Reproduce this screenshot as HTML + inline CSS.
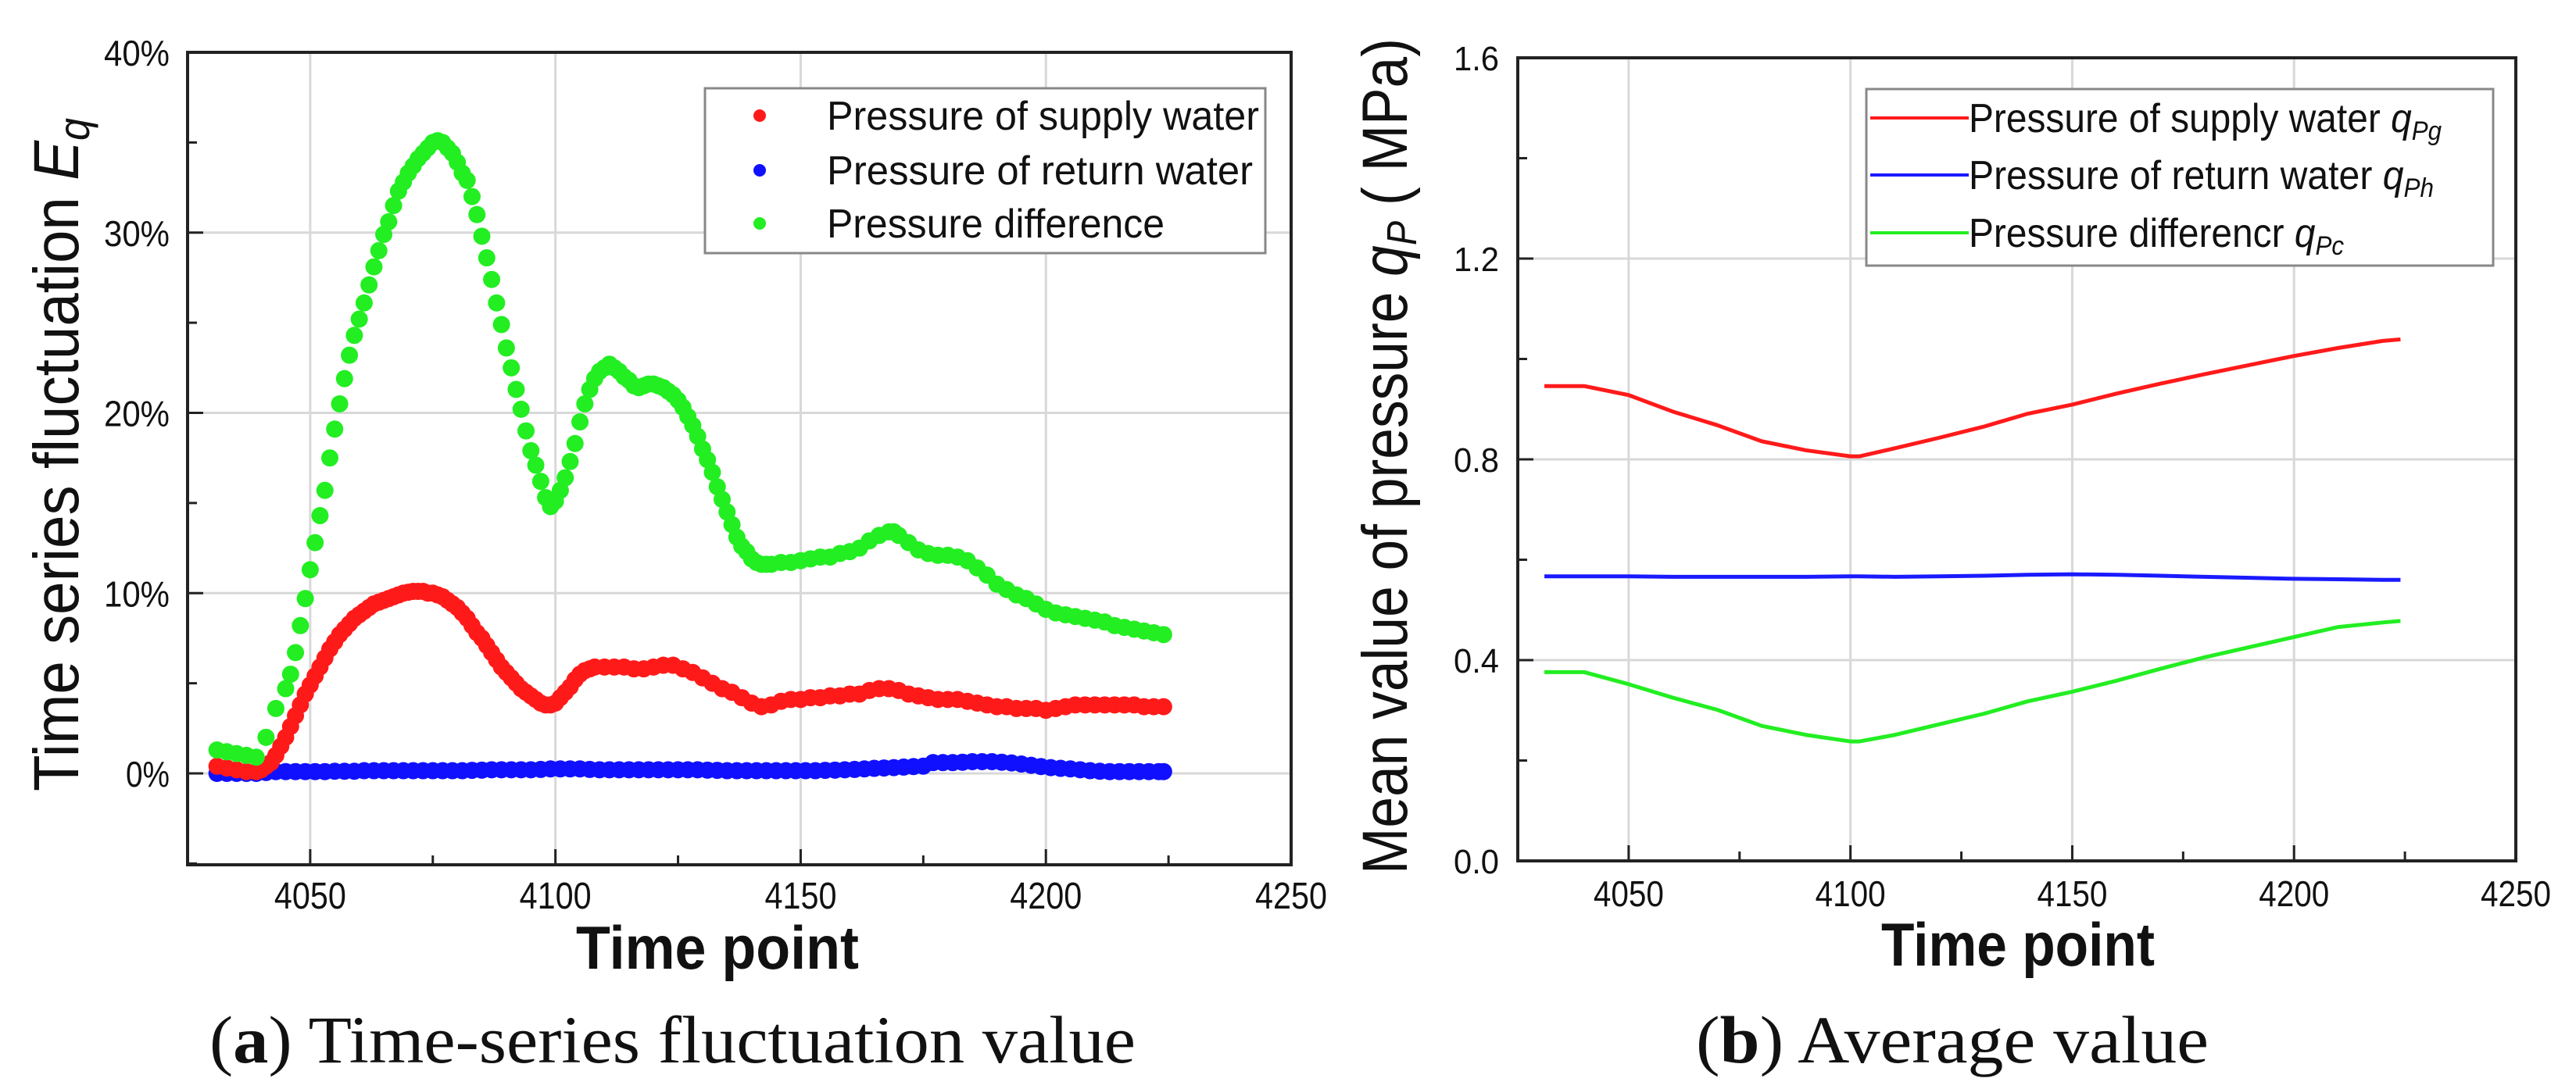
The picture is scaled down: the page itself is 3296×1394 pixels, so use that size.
<!DOCTYPE html>
<html><head><meta charset="utf-8"><style>
html,body{margin:0;padding:0;background:#fff;}
svg{display:block;}
text{font-family:"Liberation Sans",sans-serif;fill:#111;}
.cap{font-family:"Liberation Serif",serif;}
</style></head><body>
<svg id="fig" width="3296" height="1394" viewBox="0 0 3296 1394" xmlns="http://www.w3.org/2000/svg">
<g id="chartA"></g>
<g id="chartB"></g>
</svg>
<script>
// ---- Chart (a) data ----
const tGreen=[4031,4033,4035,4037,4039,4041,4043,4045,4046,4047,4048,4049,4050,4051,4052,4053,4054,4055,4056,4057,4058,4059,4060,4061,4062,4063,4064,4065,4066,4067,4068,4069,4070,4071,4072,4073,4074,4075,4076,4077,4078,4079,4080,4081,4082,4083,4084,4085,4086,4087,4088,4089,4090,4091,4092,4093,4094,4095,4096,4097,4098,4099,4100,4101,4102,4103,4104,4105,4106,4107,4108,4109,4110,4111,4112,4113,4114,4115,4116,4117,4118,4119,4120,4121,4122,4123,4124,4125,4126,4127,4128,4129,4130,4131,4132,4133,4134,4135,4136,4137,4138,4139,4140,4141,4142,4143,4144,4146,4148,4150,4152,4154,4156,4158,4160,4162,4164,4166,4168,4169,4170,4172,4174,4176,4178,4180,4182,4184,4186,4188,4190,4192,4194,4196,4198,4200,4202,4204,4206,4208,4210,4212,4214,4216,4218,4220,4222,4224];
const green=[1.3,1.2,1.1,1.0,0.9,2.0,3.6,4.7,5.5,6.7,8.2,9.7,11.3,12.8,14.3,15.7,17.5,19.1,20.5,21.9,23.2,24.3,25.2,26.1,27.1,28.1,29.0,29.9,30.6,31.5,32.3,32.8,33.3,33.7,34.1,34.4,34.7,35.0,35.1,35.0,34.7,34.4,33.9,33.3,32.9,32.0,31.0,29.8,28.6,27.4,26.1,24.9,23.6,22.5,21.3,20.2,19.0,17.9,17.1,16.2,15.3,14.8,15.1,15.7,16.4,17.3,18.3,19.5,20.5,21.3,21.9,22.3,22.5,22.7,22.5,22.3,22.0,21.8,21.5,21.4,21.5,21.6,21.6,21.5,21.4,21.2,21.0,20.7,20.3,19.8,19.3,18.7,18.0,17.4,16.7,15.9,15.2,14.5,13.8,13.1,12.6,12.3,11.9,11.7,11.6,11.6,11.6,11.7,11.7,11.8,11.9,12.0,12.0,12.2,12.3,12.5,12.9,13.2,13.4,13.4,13.2,12.8,12.4,12.2,12.1,12.1,12.0,11.8,11.4,11.0,10.5,10.2,9.9,9.7,9.4,9.1,8.9,8.8,8.7,8.6,8.5,8.4,8.2,8.1,8.0,7.9,7.8,7.7];
const tRed=[4031,4033,4035,4037,4039,4040,4041,4042,4043,4044,4045,4046,4047,4048,4049,4050,4051,4052,4053,4054,4055,4056,4057,4058,4059,4060,4061,4062,4063,4064,4065,4066,4067,4068,4069,4070,4071,4072,4073,4074,4075,4076,4077,4078,4079,4080,4081,4082,4083,4084,4085,4086,4087,4088,4089,4090,4091,4092,4093,4094,4095,4096,4097,4098,4099,4100,4101,4102,4103,4104,4105,4106,4107,4108,4110,4112,4114,4116,4118,4120,4122,4124,4126,4128,4130,4132,4134,4136,4138,4140,4142,4144,4146,4148,4150,4152,4154,4156,4158,4160,4162,4164,4166,4168,4170,4172,4174,4176,4178,4180,4182,4184,4186,4188,4190,4192,4194,4196,4198,4200,4202,4204,4206,4208,4210,4212,4214,4216,4218,4220,4222,4224];
const red=[0.4,0.3,0.2,0.1,0.1,0.2,0.4,0.6,1.0,1.5,2.0,2.6,3.2,3.8,4.4,4.9,5.4,5.9,6.4,6.9,7.3,7.7,8.0,8.3,8.6,8.8,9.0,9.2,9.4,9.5,9.6,9.7,9.8,9.9,10.0,10.05,10.1,10.1,10.1,10.0,10.0,9.9,9.8,9.6,9.4,9.2,8.9,8.6,8.2,7.8,7.5,7.1,6.7,6.3,5.9,5.6,5.3,5.0,4.7,4.5,4.3,4.1,3.9,3.8,3.8,3.9,4.2,4.5,4.8,5.2,5.5,5.7,5.8,5.9,5.9,5.9,5.9,5.8,5.8,5.9,6.0,6.0,5.8,5.6,5.3,5.0,4.7,4.5,4.2,3.9,3.7,3.8,4.0,4.1,4.1,4.2,4.2,4.3,4.3,4.4,4.4,4.6,4.7,4.7,4.6,4.4,4.3,4.2,4.1,4.1,4.1,4.0,3.9,3.8,3.7,3.7,3.6,3.6,3.6,3.5,3.6,3.7,3.8,3.8,3.8,3.8,3.8,3.8,3.8,3.7,3.7,3.7];
const tBlue=[4031,4033,4035,4037,4039,4041,4043,4045,4047,4049,4051,4053,4055,4057,4059,4061,4063,4065,4067,4069,4071,4073,4075,4077,4079,4081,4083,4085,4087,4089,4091,4093,4095,4097,4099,4101,4103,4105,4107,4109,4111,4113,4115,4117,4119,4121,4123,4125,4127,4129,4131,4133,4135,4137,4139,4141,4143,4145,4147,4149,4151,4153,4155,4157,4159,4161,4163,4165,4167,4169,4171,4173,4175,4177,4179,4181,4183,4185,4187,4189,4191,4193,4195,4197,4199,4201,4203,4205,4207,4209,4211,4213,4215,4217,4219,4221,4223,4224];
const blue=[0.0,0.0,0.0,0.0,0.0,0.05,0.1,0.1,0.1,0.1,0.1,0.1,0.12,0.12,0.12,0.15,0.15,0.15,0.15,0.15,0.15,0.15,0.15,0.15,0.15,0.15,0.17,0.18,0.2,0.2,0.2,0.2,0.2,0.22,0.25,0.25,0.25,0.25,0.22,0.2,0.2,0.2,0.2,0.2,0.2,0.2,0.2,0.2,0.2,0.2,0.18,0.17,0.15,0.15,0.15,0.15,0.15,0.15,0.15,0.15,0.15,0.15,0.17,0.18,0.2,0.22,0.25,0.28,0.3,0.32,0.35,0.38,0.4,0.6,0.6,0.6,0.62,0.65,0.65,0.65,0.62,0.58,0.52,0.45,0.38,0.32,0.28,0.25,0.2,0.15,0.12,0.1,0.1,0.1,0.1,0.1,0.1,0.1];
const xTicksA=[4050,4100,4150,4200,4250];
const yTicksA=[0,10,20,30,40];
const yTickLabelsA=["0%","10%","20%","30%","40%"];
const legendA=["Pressure of supply water","Pressure of return water","Pressure difference"];

// ---- Chart (b) data ----
const tB=[4031,4040,4050,4060,4070,4080,4090,4100,4102,4110,4120,4130,4140,4150,4160,4170,4180,4190,4200,4210,4220,4224];
const supplyB=[0.946,0.946,0.928,0.895,0.868,0.836,0.818,0.806,0.806,0.822,0.843,0.865,0.891,0.909,0.931,0.951,0.970,0.988,1.006,1.022,1.036,1.039];
const returnB=[0.567,0.567,0.567,0.566,0.566,0.566,0.566,0.567,0.567,0.566,0.567,0.568,0.570,0.571,0.570,0.568,0.566,0.564,0.562,0.561,0.560,0.560];
const diffB=[0.376,0.376,0.352,0.325,0.301,0.269,0.251,0.238,0.238,0.251,0.272,0.293,0.318,0.337,0.359,0.383,0.406,0.426,0.446,0.466,0.475,0.478];
const xTicksB=[4050,4100,4150,4200,4250];
const yTicksB=[0,0.4,0.8,1.2,1.6];
const yTickLabelsB=["0.0","0.4","0.8","1.2","1.6"];

const NS="http://www.w3.org/2000/svg";
function mk(parent,tag,attrs,txt){const e=document.createElementNS(NS,tag);for(const k in attrs)e.setAttribute(k,attrs[k]);if(txt!==undefined)e.textContent=txt;parent.appendChild(e);return e;}

// ===== Chart A =====
const A=document.getElementById('chartA');
const aL=240,aR=1652,aT=67,aB=1107;
const ax=v=>aL+(v-4025)/(4250-4025)*(aR-aL);
const ay=v=>990-(v/10)*230.75;
xTicksA.slice(0,4).forEach(v=>{const g=mk(A,'line',{x1:ax(v),x2:ax(v),y1:aT,y2:aB,stroke:'#d8d8d8','stroke-width':3});

});
yTicksA.slice(0,4).forEach(v=>{const g=mk(A,'line',{x1:aL,x2:aR,y1:ay(v),y2:ay(v),stroke:'#d8d8d8','stroke-width':3});

});
function dots(ts,vs,col,name){const g=mk(A,'g',{});


ts.forEach((t,i)=>{const c=mk(g,'circle',{cx:ax(t),cy:ay(vs[i]),r:11,fill:col});

});}
dots(tBlue,blue,'#1010ff','return-water-series');
dots(tRed,red,'#ff1a1a','supply-water-series');
dots(tGreen,green,'#22ee22','pressure-difference-series');
const fa=mk(A,'rect',{x:aL,y:aT,width:aR-aL,height:aB-aT,fill:'none',stroke:'#222','stroke-width':4});


xTicksA.forEach((v,i)=>{mk(A,'line',{x1:ax(v),x2:ax(v),y1:aB,y2:aB-20,stroke:'#222','stroke-width':3});
if(i<4)mk(A,'line',{x1:ax(v+25),x2:ax(v+25),y1:aB,y2:aB-12,stroke:'#222','stroke-width':3});
const t=mk(A,'text',{x:ax(v),y:1163,'font-size':48,'text-anchor':'middle',textLength:92,lengthAdjust:'spacingAndGlyphs'},String(v));

});
yTicksA.forEach((v,i)=>{mk(A,'line',{x1:aL,x2:aL+20,y1:ay(v),y2:ay(v),stroke:'#222','stroke-width':3});
mk(A,'line',{x1:aL,x2:aL+12,y1:ay(v-5),y2:ay(v-5),stroke:'#222','stroke-width':3});
const t=mk(A,'text',{x:217,y:ay(v)+17,'font-size':46,'text-anchor':'end',textLength:yTickLabelsA[i].length*28,lengthAdjust:'spacingAndGlyphs'},yTickLabelsA[i]);

});
let tt=mk(A,'text',{x:918,y:1240,'font-size':78,'font-weight':'bold','text-anchor':'middle',textLength:362,lengthAdjust:'spacingAndGlyphs'},'Time point');


tt=mk(A,'text',{transform:'translate(100,582) rotate(-90)','font-size':82,'text-anchor':'middle',textLength:862,lengthAdjust:'spacingAndGlyphs'});
tt.innerHTML='Time series fluctuation <tspan font-style="italic">E</tspan><tspan font-style="italic" font-size="56" dy="14">q</tspan>';


const la=mk(A,'rect',{x:902,y:113,width:717,height:211,fill:'#fff',stroke:'#888','stroke-width':3});


['#ff1a1a','#1010ff','#22ee22'].forEach((c,i)=>{const yy=[148,218,286][i];
const d=mk(A,'circle',{cx:972,cy:yy,r:8,fill:c});


const t=mk(A,'text',{x:1058,y:yy+18,'font-size':52,textLength:[553,545,432][i],lengthAdjust:'spacingAndGlyphs'},legendA[i]);

});
tt=mk(A,'text',{x:268,y:1360,'font-size':86,'class':'cap',textLength:1185,lengthAdjust:'spacingAndGlyphs'});
tt.innerHTML='(<tspan font-weight="bold">a</tspan>) Time-series fluctuation value';



// ===== Chart B =====
const B=document.getElementById('chartB');
const bL=1942,bR=3219,bT=74,bB=1102;
const bx=v=>bL+(v-4025)/(4250-4025)*(bR-bL);
const by=v=>bB-v/1.6*(bB-bT);
xTicksB.slice(0,4).forEach(v=>{const g=mk(B,'line',{x1:bx(v),x2:bx(v),y1:bT,y2:bB,stroke:'#d8d8d8','stroke-width':3});

});
yTicksB.slice(1,4).forEach(v=>{const g=mk(B,'line',{x1:bL,x2:bR,y1:by(v),y2:by(v),stroke:'#d8d8d8','stroke-width':3});

});
function line(vs,col,name){const p=mk(B,'polyline',{points:tB.map((t,i)=>bx(t)+','+by(vs[i])).join(' '),fill:'none',stroke:col,'stroke-width':5,'stroke-linejoin':'round'});

}
line(supplyB,'#ff1a1a','supply-water-line');
line(returnB,'#1a1aff','return-water-line');
line(diffB,'#22ee22','pressure-difference-line');
const fb=mk(B,'rect',{x:bL,y:bT,width:bR-bL,height:bB-bT,fill:'none',stroke:'#222','stroke-width':4});


xTicksB.forEach((v,i)=>{mk(B,'line',{x1:bx(v),x2:bx(v),y1:bB,y2:bB-20,stroke:'#222','stroke-width':3});
if(i<4)mk(B,'line',{x1:bx(v+25),x2:bx(v+25),y1:bB,y2:bB-12,stroke:'#222','stroke-width':3});
const t=mk(B,'text',{x:bx(v),y:1160,'font-size':46,'text-anchor':'middle',textLength:90,lengthAdjust:'spacingAndGlyphs'},String(v));

});
yTicksB.forEach((v,i)=>{mk(B,'line',{x1:bL,x2:bL+20,y1:by(v),y2:by(v),stroke:'#222','stroke-width':3});
if(i>0)mk(B,'line',{x1:bL,x2:bL+12,y1:by(v-0.2),y2:by(v-0.2),stroke:'#222','stroke-width':3});
const t=mk(B,'text',{x:1918,y:by(v)+16,'font-size':44,'text-anchor':'end',textLength:58,lengthAdjust:'spacingAndGlyphs'},yTickLabelsB[i]);

});
tt=mk(B,'text',{x:2582,y:1236,'font-size':78,'font-weight':'bold','text-anchor':'middle',textLength:350,lengthAdjust:'spacingAndGlyphs'},'Time point');


tt=mk(B,'text',{transform:'translate(1800,584) rotate(-90)','font-size':82,'text-anchor':'middle',textLength:1070,lengthAdjust:'spacingAndGlyphs'});
tt.innerHTML='Mean value of pressure <tspan font-style="italic">q</tspan><tspan font-style="italic" font-size="54" dy="12">P</tspan><tspan dy="-12"> ( MPa)</tspan>';


const lb=mk(B,'rect',{x:2388,y:114,width:802,height:226,fill:'#fff',stroke:'#888','stroke-width':3});


const legB=[['Pressure of  supply water ','q','Pg',605],['Pressure of  return water ','q','Ph',595],['Pressure differencr ','q','Pc',480]];
['#ff1a1a','#1a1aff','#22ee22'].forEach((c,i)=>{const yy=[151,224,298][i];
const l=mk(B,'line',{x1:2393,x2:2519,y1:yy,y2:yy,stroke:c,'stroke-width':4});


const t=mk(B,'text',{x:2519,y:yy+18,'font-size':52,textLength:legB[i][3],lengthAdjust:'spacingAndGlyphs'});
t.innerHTML=legB[i][0]+'<tspan font-style="italic">'+legB[i][1]+'</tspan><tspan font-style="italic" font-size="34" dy="10">'+legB[i][2]+'</tspan>';

});
tt=mk(B,'text',{x:2170,y:1360,'font-size':86,'class':'cap',textLength:656,lengthAdjust:'spacingAndGlyphs'});
tt.innerHTML='(<tspan font-weight="bold">b</tspan>) Average value';


</script>
</body></html>
